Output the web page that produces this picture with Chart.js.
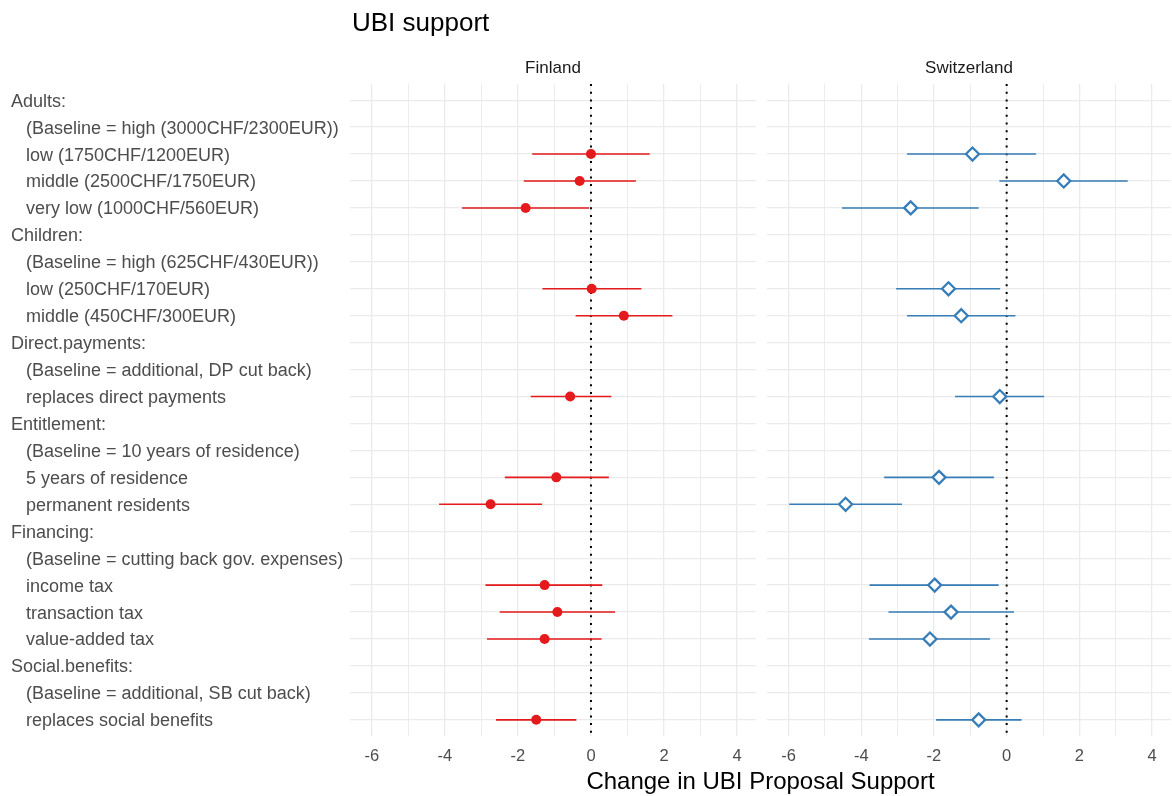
<!DOCTYPE html>
<html>
<head>
<meta charset="utf-8">
<script src="https://cdn.jsdelivr.net/npm/chart.js@4"></script>
<style>
  body { margin: 0; background: #fff; }
  #wrap { position: relative; width: 1172px; height: 796px; overflow: hidden; font-family: "Liberation Sans", Arial, sans-serif; }
  #wrap canvas { position: absolute; top: 0; }
  .txt { position: absolute; line-height: 1; white-space: nowrap; }
  #title { left: 352px; top: 9px; font-size: 26px; color: #000; }
  .strip { top: 59px; font-size: 17px; color: #1a1a1a; text-align: center; }
  #xtitle { left: 350px; width: 821px; top: 769px; font-size: 24px; color: #000; text-align: center; }
</style>
</head>
<body>
<div id="wrap">
  <canvas id="chartFinland" width="758" height="796" style="left:0"></canvas>
  <canvas id="chartSwitzerland" width="412" height="796" style="left:760px"></canvas>
  <div id="title" class="txt">UBI support</div>
  <div class="txt strip" style="left:350px;width:406px">Finland</div>
  <div class="txt strip" style="left:767px;width:404px">Switzerland</div>
  <div id="xtitle" class="txt">Change in UBI Proposal Support</div>
</div>
<script>
const categories = [
  "Adults:",
  "(Baseline = high (3000CHF/2300EUR))",
  "low (1750CHF/1200EUR)",
  "middle (2500CHF/1750EUR)",
  "very low (1000CHF/560EUR)",
  "Children:",
  "(Baseline = high (625CHF/430EUR))",
  "low (250CHF/170EUR)",
  "middle (450CHF/300EUR)",
  "Direct.payments:",
  "(Baseline = additional, DP cut back)",
  "replaces direct payments",
  "Entitlement:",
  "(Baseline = 10 years of residence)",
  "5 years of residence",
  "permanent residents",
  "Financing:",
  "(Baseline = cutting back gov. expenses)",
  "income tax",
  "transaction tax",
  "value-added tax",
  "Social.benefits:",
  "(Baseline = additional, SB cut back)",
  "replaces social benefits",
];

// one entry per category row, null where nothing is estimated
const finlandEst = [null, null, 0.0, -0.31, -1.79, null, null, 0.02, 0.9, null, null, -0.57, null, null, -0.95, -2.75, null, null, -1.27, -0.92, -1.27, null, null, -1.5];
const finlandLow = [null, null, -1.61, -1.84, -3.53, null, null, -1.33, -0.42, null, null, -1.65, null, null, -2.36, -4.16, null, null, -2.89, -2.5, -2.85, null, null, -2.6];
const finlandHigh = [null, null, 1.61, 1.23, -0.05, null, null, 1.38, 2.23, null, null, 0.56, null, null, 0.49, -1.34, null, null, 0.31, 0.66, 0.29, null, null, -0.4];

const swissEst = [null, null, -0.94, 1.57, -2.64, null, null, -1.6, -1.25, null, null, -0.19, null, null, -1.86, -4.43, null, null, -1.98, -1.53, -2.11, null, null, -0.77];
const swissLow = [null, null, -2.74, -0.2, -4.53, null, null, -3.04, -2.74, null, null, -1.42, null, null, -3.37, -5.98, null, null, -3.77, -3.25, -3.79, null, null, -1.94];
const swissHigh = [null, null, 0.81, 3.33, -0.77, null, null, -0.18, 0.24, null, null, 1.03, null, null, -0.35, -2.88, null, null, -0.22, 0.2, -0.46, null, null, 0.41];

const xGridValues = [-6, -5, -4, -3, -2, -1, 0, 1, 2, 3, 4];
const xTickLabels = [-6, -4, -2, 0, 2, 4];
const xRange = [-6.6, 4.52];

(() => {
  const FONT = "'Liberation Sans', Arial, sans-serif";
  const GRID = "#ebebeb";
  const rowMin = -0.6;
  const rowMax = categories.length - 1 + 0.6;

  function pointsOf(est) {
    const out = [];
    est.forEach((v, i) => {
      if (v !== null) out.push({ x: v, y: i });
    });
    return out;
  }

  function segmentsOf(low, high) {
    const out = [];
    low.forEach((lo, i) => {
      if (lo === null) return;
      out.push({ x: lo, y: i }, { x: high[i], y: i }, { x: null, y: null });
    });
    return out;
  }

  function buildConfig(est, low, high, opts) {
    return {
      type: "scatter",
      data: {
        datasets: [
          {
            data: pointsOf(est),
            pointStyle: opts.pointStyle,
            pointRadius: opts.pointRadius,
            pointBorderWidth: opts.pointBorderWidth,
            pointBackgroundColor: opts.pointFill,
            pointBorderColor: opts.color,
            showLine: false,
          },
          {
            data: segmentsOf(low, high),
            showLine: true,
            spanGaps: false,
            borderColor: opts.color,
            borderWidth: 1.6,
            pointRadius: 0,
          },
          {
            data: [{ x: 0, y: rowMin }, { x: 0, y: rowMax }],
            showLine: true,
            borderColor: "#000",
            borderWidth: 2,
            borderDash: [2, 5.7],
            borderCapStyle: "butt",
            pointRadius: 0,
          },
        ],
      },
      options: {
        responsive: false,
        animation: false,
        devicePixelRatio: 1,
        layout: { padding: opts.padding, autoPadding: false },
        plugins: {
          legend: { display: false },
          tooltip: { enabled: false },
        },
        scales: {
          x: {
            type: "linear",
            min: xRange[0],
            max: xRange[1],
            afterBuildTicks(scale) {
              scale.ticks = xGridValues.map((v) => ({ value: v }));
            },
            afterFit(scale) {
              scale.height = 60;
            },
            border: { display: false },
            grid: {
              color: GRID,
              lineWidth: (ctx) => (xTickLabels.includes(ctx.tick && ctx.tick.value) ? 1.3 : 0.9),
              drawTicks: false,
            },
            ticks: {
              padding: 11,
              color: "#4d4d4d",
              font: { family: FONT, size: 16.5 },
              callback: (v) => (xTickLabels.includes(v) ? String(v) : ""),
            },
          },
          y: {
            type: "linear",
            reverse: true,
            min: rowMin,
            max: rowMax,
            afterBuildTicks(scale) {
              scale.ticks = categories.map((c, i) => ({ value: i }));
            },
            afterFit(scale) {
              scale.width = opts.yWidth;
            },
            border: { display: false },
            grid: { color: GRID, lineWidth: 1.3, drawTicks: false },
            ticks: {
              display: opts.showLabels,
              crossAlign: "far",
              padding: 0,
              labelOffset: 1.5,
              color: "#4d4d4d",
              font: { family: FONT, size: 18 },
              callback: (v) => {
                const label = categories[v];
                if (label === undefined) return "";
                return label.endsWith(":") ? label : "   " + label;
              },
            },
          },
        },
      },
    };
  }

  new Chart(
    document.getElementById("chartFinland"),
    buildConfig(finlandEst, finlandLow, finlandHigh, {
      color: "#e41a1c",
      pointStyle: "circle",
      pointRadius: 5,
      pointBorderWidth: 0,
      pointFill: "#e41a1c",
      padding: { top: 84, left: 11, right: 2, bottom: 0 },
      yWidth: 339,
      showLabels: true,
    })
  );

  new Chart(
    document.getElementById("chartSwitzerland"),
    buildConfig(swissEst, swissLow, swissHigh, {
      color: "#377eb8",
      pointStyle: "rectRot",
      pointRadius: 6.5,
      pointBorderWidth: 2.3,
      pointFill: "#fff",
      padding: { top: 84, left: 6.7, right: 1, bottom: 0 },
      yWidth: 0,
      showLabels: false,
    })
  );
})();
</script>
</body>
</html>
